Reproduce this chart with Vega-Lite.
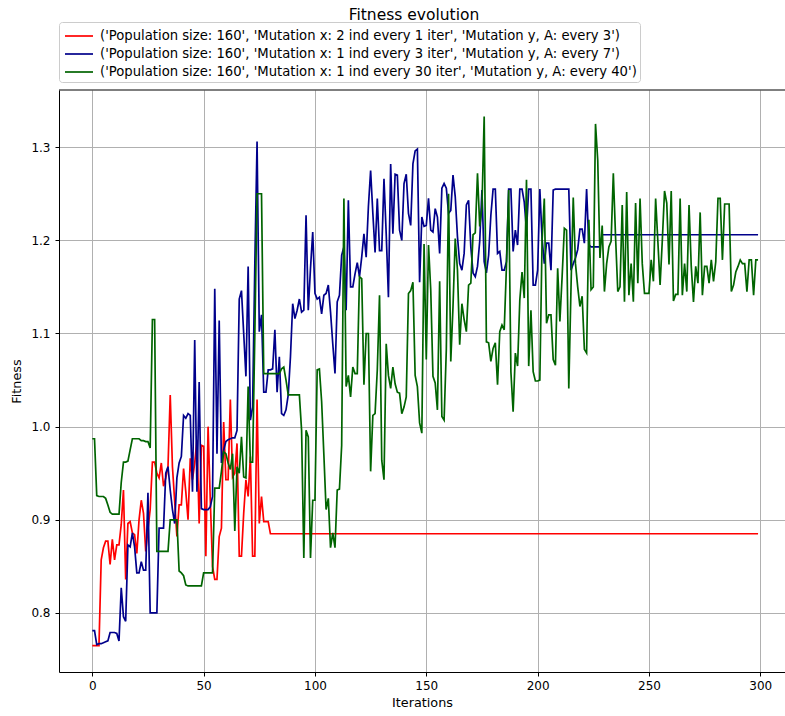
{
"$schema": "https://vega.github.io/schema/vega-lite/v6.json",
"width": 726,
"height": 582,
"autosize": {"type": "none"},
"padding": {"left": 59, "top": 90, "right": 0, "bottom": 44},
"background": "white",
"title": {"text": "Fitness evolution", "font": "DejaVu Sans", "fontSize": 15.5, "fontWeight": "normal", "color": "black", "offset": -2, "dx": -8, "anchor": "middle"},
"data": {"values": [
{"i":0,"r":0.765,"b":0.781,"g":0.987},
{"i":1,"r":0.765,"b":0.781,"g":0.987},
{"i":2,"r":0.765,"b":0.766,"g":0.926},
{"i":3,"r":0.765,"b":0.767,"g":0.925},
{"i":4,"r":0.857,"b":0.767,"g":0.925},
{"i":5,"r":0.870,"b":0.768,"g":0.925},
{"i":6,"r":0.877,"b":0.769,"g":0.923},
{"i":7,"r":0.877,"b":0.770,"g":0.916},
{"i":8,"r":0.852,"b":0.779,"g":0.908},
{"i":9,"r":0.879,"b":0.779,"g":0.906},
{"i":10,"r":0.857,"b":0.779,"g":0.906},
{"i":11,"r":0.873,"b":0.778,"g":0.906},
{"i":12,"r":0.873,"b":0.770,"g":0.906},
{"i":13,"r":0.895,"b":0.827,"g":0.940},
{"i":14,"r":0.932,"b":0.796,"g":0.962},
{"i":15,"r":0.836,"b":0.791,"g":0.962},
{"i":16,"r":0.896,"b":0.873,"g":0.963},
{"i":17,"r":0.898,"b":0.871,"g":0.975},
{"i":18,"r":0.886,"b":0.886,"g":0.987},
{"i":19,"r":0.884,"b":0.871,"g":0.987},
{"i":20,"r":0.864,"b":0.843,"g":0.987},
{"i":21,"r":0.900,"b":0.843,"g":0.987},
{"i":22,"r":0.921,"b":0.855,"g":0.985},
{"i":23,"r":0.907,"b":0.846,"g":0.985},
{"i":24,"r":0.866,"b":0.846,"g":0.984},
{"i":25,"r":0.890,"b":0.929,"g":0.984},
{"i":26,"r":0.911,"b":0.800,"g":0.977},
{"i":27,"r":0.962,"b":0.800,"g":1.115},
{"i":28,"r":0.962,"b":0.800,"g":1.115},
{"i":29,"r":0.950,"b":0.800,"g":0.866},
{"i":30,"r":0.945,"b":0.891,"g":0.866},
{"i":31,"r":0.961,"b":0.891,"g":0.866},
{"i":32,"r":0.936,"b":0.891,"g":0.866},
{"i":33,"r":0.945,"b":0.950,"g":0.866},
{"i":34,"r":0.957,"b":0.957,"g":0.866},
{"i":35,"r":1.034,"b":0.932,"g":0.900},
{"i":36,"r":0.957,"b":0.911,"g":0.900},
{"i":37,"r":0.920,"b":0.896,"g":0.900},
{"i":38,"r":0.882,"b":0.945,"g":0.900},
{"i":39,"r":0.916,"b":0.961,"g":0.845},
{"i":40,"r":0.916,"b":0.968,"g":0.843},
{"i":41,"r":0.955,"b":1.012,"g":0.840},
{"i":42,"r":0.930,"b":1.009,"g":0.830},
{"i":43,"r":0.900,"b":1.014,"g":0.829},
{"i":44,"r":0.966,"b":1.012,"g":0.829},
{"i":45,"r":0.943,"b":0.930,"g":0.829},
{"i":46,"r":0.961,"b":1.093,"g":0.829},
{"i":47,"r":0.986,"b":0.930,"g":0.829},
{"i":48,"r":0.896,"b":1.048,"g":0.829},
{"i":49,"r":0.980,"b":0.912,"g":0.829},
{"i":50,"r":0.979,"b":0.911,"g":0.843},
{"i":51,"r":0.861,"b":0.911,"g":0.843},
{"i":52,"r":1.000,"b":0.911,"g":0.843},
{"i":53,"r":0.921,"b":0.914,"g":0.843},
{"i":54,"r":0.850,"b":0.925,"g":0.843},
{"i":55,"r":0.836,"b":1.148,"g":0.934},
{"i":56,"r":0.836,"b":0.971,"g":0.934},
{"i":57,"r":0.882,"b":1.114,"g":0.934},
{"i":58,"r":0.891,"b":0.961,"g":0.952},
{"i":59,"r":1.005,"b":0.975,"g":0.973},
{"i":60,"r":0.943,"b":0.984,"g":0.971},
{"i":61,"r":0.943,"b":0.986,"g":0.961},
{"i":62,"r":1.029,"b":0.987,"g":0.954},
{"i":63,"r":0.946,"b":0.988,"g":0.971},
{"i":64,"r":0.950,"b":0.988,"g":0.888},
{"i":65,"r":0.982,"b":0.996,"g":0.957},
{"i":66,"r":0.861,"b":1.137,"g":0.950},
{"i":67,"r":0.861,"b":1.146,"g":0.989},
{"i":68,"r":0.907,"b":1.100,"g":0.946},
{"i":69,"r":0.943,"b":1.054,"g":0.945},
{"i":70,"r":0.925,"b":1.172,"g":1.043},
{"i":71,"r":0.968,"b":1.007,"g":0.962},
{"i":72,"r":0.861,"b":1.021,"g":0.962},
{"i":73,"r":0.861,"b":1.175,"g":1.100},
{"i":74,"r":1.029,"b":1.306,"g":1.250},
{"i":75,"r":0.896,"b":1.102,"g":1.250},
{"i":76,"r":0.925,"b":1.120,"g":1.250},
{"i":77,"r":0.898,"b":1.037,"g":1.057},
{"i":78,"r":0.898,"b":1.037,"g":1.057},
{"i":79,"r":0.898,"b":1.061,"g":1.057},
{"i":80,"r":0.885,"b":1.061,"g":1.057},
{"i":81,"r":0.885,"b":1.062,"g":1.057},
{"i":82,"r":0.885,"b":1.104,"g":1.057},
{"i":83,"r":0.885,"b":1.037,"g":1.057},
{"i":84,"r":0.885,"b":1.075,"g":1.057},
{"i":85,"r":0.885,"b":1.014,"g":1.062},
{"i":86,"r":0.885,"b":1.012,"g":1.064},
{"i":87,"r":0.885,"b":1.018,"g":1.050},
{"i":88,"r":0.885,"b":1.034,"g":1.034},
{"i":89,"r":0.885,"b":1.075,"g":1.034},
{"i":90,"r":0.885,"b":1.132,"g":1.034},
{"i":91,"r":0.885,"b":1.116,"g":1.034},
{"i":92,"r":0.885,"b":1.125,"g":1.034},
{"i":93,"r":0.885,"b":1.137,"g":1.034},
{"i":94,"r":0.885,"b":1.123,"g":0.996},
{"i":95,"r":0.885,"b":1.125,"g":0.859},
{"i":96,"r":0.885,"b":1.227,"g":0.996},
{"i":97,"r":0.885,"b":1.125,"g":0.989},
{"i":98,"r":0.885,"b":1.170,"g":0.859},
{"i":99,"r":0.885,"b":1.209,"g":0.921},
{"i":100,"r":0.885,"b":1.143,"g":0.921},
{"i":101,"r":0.885,"b":1.137,"g":1.061},
{"i":102,"r":0.885,"b":1.139,"g":1.062},
{"i":103,"r":0.885,"b":1.121,"g":1.027},
{"i":104,"r":0.885,"b":1.141,"g":0.970},
{"i":105,"r":0.885,"b":1.143,"g":0.911},
{"i":106,"r":0.885,"b":1.152,"g":0.923},
{"i":107,"r":0.885,"b":1.123,"g":0.870},
{"i":108,"r":0.885,"b":1.089,"g":0.886},
{"i":109,"r":0.885,"b":1.057,"g":0.870},
{"i":110,"r":0.885,"b":1.134,"g":0.932},
{"i":111,"r":0.885,"b":1.141,"g":0.933},
{"i":112,"r":0.885,"b":1.184,"g":0.980},
{"i":113,"r":0.885,"b":1.193,"g":1.245},
{"i":114,"r":0.885,"b":1.125,"g":1.043},
{"i":115,"r":0.885,"b":1.243,"g":1.055},
{"i":116,"r":0.885,"b":1.150,"g":1.032},
{"i":117,"r":0.885,"b":1.150,"g":1.064},
{"i":118,"r":0.885,"b":1.164,"g":1.057},
{"i":119,"r":0.885,"b":1.176,"g":1.057},
{"i":120,"r":0.885,"b":1.161,"g":1.161},
{"i":121,"r":0.885,"b":1.182,"g":1.159},
{"i":122,"r":0.885,"b":1.207,"g":1.045},
{"i":123,"r":0.885,"b":1.182,"g":1.100},
{"i":124,"r":0.885,"b":1.236,"g":1.100},
{"i":125,"r":0.885,"b":1.275,"g":0.952},
{"i":126,"r":0.885,"b":1.229,"g":1.012},
{"i":127,"r":0.885,"b":1.187,"g":1.014},
{"i":128,"r":0.885,"b":1.245,"g":1.061},
{"i":129,"r":0.885,"b":1.189,"g":1.141},
{"i":130,"r":0.885,"b":1.189,"g":0.964},
{"i":131,"r":0.885,"b":1.266,"g":0.943},
{"i":132,"r":0.885,"b":1.207,"g":1.089},
{"i":133,"r":0.885,"b":1.139,"g":1.055},
{"i":134,"r":0.885,"b":1.282,"g":1.041},
{"i":135,"r":0.885,"b":1.207,"g":1.064},
{"i":136,"r":0.885,"b":1.271,"g":1.046},
{"i":137,"r":0.885,"b":1.270,"g":1.037},
{"i":138,"r":0.885,"b":1.211,"g":1.036},
{"i":139,"r":0.885,"b":1.200,"g":1.014},
{"i":140,"r":0.885,"b":1.261,"g":1.021},
{"i":141,"r":0.885,"b":1.271,"g":1.032},
{"i":142,"r":0.885,"b":1.229,"g":1.143},
{"i":143,"r":0.885,"b":1.216,"g":1.146},
{"i":144,"r":0.885,"b":1.282,"g":1.155},
{"i":145,"r":0.885,"b":1.296,"g":1.055},
{"i":146,"r":0.885,"b":1.298,"g":1.043},
{"i":147,"r":0.885,"b":1.155,"g":1.004},
{"i":148,"r":0.885,"b":1.225,"g":0.993},
{"i":149,"r":0.885,"b":1.215,"g":1.196},
{"i":150,"r":0.885,"b":1.216,"g":1.072},
{"i":151,"r":0.885,"b":1.245,"g":1.195},
{"i":152,"r":0.885,"b":1.211,"g":1.147},
{"i":153,"r":0.885,"b":1.209,"g":1.054},
{"i":154,"r":0.885,"b":1.234,"g":1.047},
{"i":155,"r":0.885,"b":1.225,"g":1.018},
{"i":156,"r":0.885,"b":1.186,"g":1.156},
{"i":157,"r":0.885,"b":1.256,"g":1.011},
{"i":158,"r":0.885,"b":1.261,"g":1.007},
{"i":159,"r":0.885,"b":1.256,"g":1.083},
{"i":160,"r":0.885,"b":1.229,"g":1.250},
{"i":161,"r":0.885,"b":1.232,"g":1.070},
{"i":162,"r":0.885,"b":1.270,"g":1.129},
{"i":163,"r":0.885,"b":1.247,"g":1.202},
{"i":164,"r":0.885,"b":1.204,"g":1.168},
{"i":165,"r":0.885,"b":1.175,"g":1.088},
{"i":166,"r":0.885,"b":1.168,"g":1.132},
{"i":167,"r":0.885,"b":1.186,"g":1.115},
{"i":168,"r":0.885,"b":1.238,"g":1.102},
{"i":169,"r":0.885,"b":1.243,"g":1.152},
{"i":170,"r":0.885,"b":1.193,"g":1.154},
{"i":171,"r":0.885,"b":1.165,"g":1.206},
{"i":172,"r":0.885,"b":1.161,"g":1.208},
{"i":173,"r":0.885,"b":1.172,"g":1.272},
{"i":174,"r":0.885,"b":1.199,"g":1.215},
{"i":175,"r":0.885,"b":1.254,"g":1.236},
{"i":176,"r":0.885,"b":1.177,"g":1.333},
{"i":177,"r":0.885,"b":1.165,"g":1.091},
{"i":178,"r":0.885,"b":1.184,"g":1.090},
{"i":179,"r":0.885,"b":1.227,"g":1.070},
{"i":180,"r":0.885,"b":1.255,"g":1.084},
{"i":181,"r":0.885,"b":1.255,"g":1.090},
{"i":182,"r":0.885,"b":1.186,"g":1.045},
{"i":183,"r":0.885,"b":1.188,"g":1.102},
{"i":184,"r":0.885,"b":1.168,"g":1.109},
{"i":185,"r":0.885,"b":1.168,"g":1.104},
{"i":186,"r":0.885,"b":1.177,"g":1.172},
{"i":187,"r":0.885,"b":1.255,"g":1.254},
{"i":188,"r":0.885,"b":1.255,"g":1.059},
{"i":189,"r":0.885,"b":1.188,"g":1.016},
{"i":190,"r":0.885,"b":1.211,"g":1.079},
{"i":191,"r":0.885,"b":1.195,"g":1.065},
{"i":192,"r":0.885,"b":1.255,"g":1.136},
{"i":193,"r":0.885,"b":1.255,"g":1.166},
{"i":194,"r":0.885,"b":1.241,"g":1.138},
{"i":195,"r":0.885,"b":1.211,"g":1.265},
{"i":196,"r":0.885,"b":1.255,"g":1.065},
{"i":197,"r":0.885,"b":1.255,"g":1.125},
{"i":198,"r":0.885,"b":1.152,"g":1.059},
{"i":199,"r":0.885,"b":1.152,"g":1.049},
{"i":200,"r":0.885,"b":1.168,"g":1.049},
{"i":201,"r":0.885,"b":1.255,"g":1.050},
{"i":202,"r":0.885,"b":1.202,"g":1.200},
{"i":203,"r":0.885,"b":1.175,"g":1.245},
{"i":204,"r":0.885,"b":1.197,"g":1.111},
{"i":205,"r":0.885,"b":1.197,"g":1.120},
{"i":206,"r":0.885,"b":1.168,"g":1.120},
{"i":207,"r":0.885,"b":1.254,"g":1.072},
{"i":208,"r":0.885,"b":1.255,"g":1.066},
{"i":209,"r":0.885,"b":1.255,"g":1.170},
{"i":210,"r":0.885,"b":1.255,"g":1.113},
{"i":211,"r":0.885,"b":1.255,"g":1.161},
{"i":212,"r":0.885,"b":1.255,"g":1.213},
{"i":213,"r":0.885,"b":1.255,"g":1.211},
{"i":214,"r":0.885,"b":1.255,"g":1.041},
{"i":215,"r":0.885,"b":1.168,"g":1.150},
{"i":216,"r":0.885,"b":1.175,"g":1.246},
{"i":217,"r":0.885,"b":1.181,"g":1.175},
{"i":218,"r":0.885,"b":1.190,"g":1.150},
{"i":219,"r":0.885,"b":1.212,"g":1.129},
{"i":220,"r":0.885,"b":1.212,"g":1.140},
{"i":221,"r":0.885,"b":1.197,"g":1.083},
{"i":222,"r":0.885,"b":1.255,"g":1.079},
{"i":223,"r":0.885,"b":1.195,"g":1.222},
{"i":224,"r":0.885,"b":1.193,"g":1.147},
{"i":225,"r":0.885,"b":1.193,"g":1.150},
{"i":226,"r":0.885,"b":1.193,"g":1.325},
{"i":227,"r":0.885,"b":1.193,"g":1.286},
{"i":228,"r":0.885,"b":1.193,"g":1.181},
{"i":229,"r":0.885,"b":1.206,"g":1.216},
{"i":230,"r":0.885,"b":1.206,"g":1.145},
{"i":231,"r":0.885,"b":1.206,"g":1.175},
{"i":232,"r":0.885,"b":1.206,"g":1.193},
{"i":233,"r":0.885,"b":1.206,"g":1.199},
{"i":234,"r":0.885,"b":1.206,"g":1.272},
{"i":235,"r":0.885,"b":1.206,"g":1.204},
{"i":236,"r":0.885,"b":1.206,"g":1.145},
{"i":237,"r":0.885,"b":1.206,"g":1.150},
{"i":238,"r":0.885,"b":1.206,"g":1.238},
{"i":239,"r":0.885,"b":1.206,"g":1.134},
{"i":240,"r":0.885,"b":1.206,"g":1.252},
{"i":241,"r":0.885,"b":1.206,"g":1.141},
{"i":242,"r":0.885,"b":1.206,"g":1.175},
{"i":243,"r":0.885,"b":1.206,"g":1.134},
{"i":244,"r":0.885,"b":1.206,"g":1.240},
{"i":245,"r":0.885,"b":1.206,"g":1.154},
{"i":246,"r":0.885,"b":1.206,"g":1.245},
{"i":247,"r":0.885,"b":1.206,"g":1.175},
{"i":248,"r":0.885,"b":1.206,"g":1.143},
{"i":249,"r":0.885,"b":1.206,"g":1.143},
{"i":250,"r":0.885,"b":1.206,"g":1.143},
{"i":251,"r":0.885,"b":1.206,"g":1.179},
{"i":252,"r":0.885,"b":1.206,"g":1.156},
{"i":253,"r":0.885,"b":1.206,"g":1.245},
{"i":254,"r":0.885,"b":1.206,"g":1.199},
{"i":255,"r":0.885,"b":1.206,"g":1.152},
{"i":256,"r":0.885,"b":1.206,"g":1.200},
{"i":257,"r":0.885,"b":1.206,"g":1.253},
{"i":258,"r":0.885,"b":1.206,"g":1.240},
{"i":259,"r":0.885,"b":1.206,"g":1.174},
{"i":260,"r":0.885,"b":1.206,"g":1.253},
{"i":261,"r":0.885,"b":1.206,"g":1.135},
{"i":262,"r":0.885,"b":1.206,"g":1.142},
{"i":263,"r":0.885,"b":1.206,"g":1.142},
{"i":264,"r":0.885,"b":1.206,"g":1.245},
{"i":265,"r":0.885,"b":1.206,"g":1.141},
{"i":266,"r":0.885,"b":1.206,"g":1.175},
{"i":267,"r":0.885,"b":1.206,"g":1.145},
{"i":268,"r":0.885,"b":1.206,"g":1.238},
{"i":269,"r":0.885,"b":1.206,"g":1.172},
{"i":270,"r":0.885,"b":1.206,"g":1.134},
{"i":271,"r":0.885,"b":1.206,"g":1.172},
{"i":272,"r":0.885,"b":1.206,"g":1.154},
{"i":273,"r":0.885,"b":1.206,"g":1.230},
{"i":274,"r":0.885,"b":1.206,"g":1.141},
{"i":275,"r":0.885,"b":1.206,"g":1.172},
{"i":276,"r":0.885,"b":1.206,"g":1.172},
{"i":277,"r":0.885,"b":1.206,"g":1.154},
{"i":278,"r":0.885,"b":1.206,"g":1.179},
{"i":279,"r":0.885,"b":1.206,"g":1.156},
{"i":280,"r":0.885,"b":1.206,"g":1.177},
{"i":281,"r":0.885,"b":1.206,"g":1.245},
{"i":282,"r":0.885,"b":1.206,"g":1.245},
{"i":283,"r":0.885,"b":1.206,"g":1.179},
{"i":284,"r":0.885,"b":1.206,"g":1.239},
{"i":285,"r":0.885,"b":1.206,"g":1.239},
{"i":286,"r":0.885,"b":1.206,"g":1.239},
{"i":287,"r":0.885,"b":1.206,"g":1.145},
{"i":288,"r":0.885,"b":1.206,"g":1.152},
{"i":289,"r":0.885,"b":1.206,"g":1.166},
{"i":290,"r":0.885,"b":1.206,"g":1.172},
{"i":291,"r":0.885,"b":1.206,"g":1.179},
{"i":292,"r":0.885,"b":1.206,"g":1.175},
{"i":293,"r":0.885,"b":1.206,"g":1.175},
{"i":294,"r":0.885,"b":1.206,"g":1.145},
{"i":295,"r":0.885,"b":1.206,"g":1.179},
{"i":296,"r":0.885,"b":1.206,"g":1.179},
{"i":297,"r":0.885,"b":1.206,"g":1.141},
{"i":298,"r":0.885,"b":1.206,"g":1.179},
{"i":299,"r":0.885,"b":1.206,"g":1.179}
]},
"layer": [
{
"transform": [{"fold": ["r", "b", "g"], "as": ["s", "v"]}],
"mark": {"type": "line", "strokeWidth": 1.7, "interpolate": "linear"},
"encoding": {
"x": {"field": "i", "type": "quantitative", "scale": {"domain": [-14.95, 311.1], "nice": false, "zero": false},
"axis": {"values": [0, 50, 100, 150, 200, 250, 300], "title": "Iterations", "labelPadding": 4, "titlePadding": 5}},
"y": {"field": "v", "type": "quantitative", "scale": {"domain": [0.7366, 1.3614], "nice": false, "zero": false},
"axis": {"values": [0.8, 0.9, 1.0, 1.1, 1.2, 1.3], "format": ".1f", "title": "Fitness", "labelPadding": 5, "titlePadding": 7}},
"color": {"field": "s", "type": "nominal", "sort": ["r", "b", "g"],
"scale": {"domain": ["r", "b", "g"], "range": ["#ff0000", "#00008b", "#006400"]},
"legend": {"title": null, "orient": "none", "legendX": 0, "legendY": -68, "direction": "vertical",
"symbolType": "M-1.4,0L1.4,0", "symbolSize": 400, "symbolStrokeWidth": 1.7, "symbolOffset": 6,
"labelFont": "DejaVu Sans", "labelFontSize": 13.2, "labelColor": "black", "labelOffset": 10, "labelLimit": 0,
"rowPadding": -1, "padding": 3, "strokeColor": "#cccccc", "fillColor": "white", "cornerRadius": 3,
"labelExpr": "datum.value == 'r' ? \"('Population size: 160', 'Mutation x: 2 ind every 1 iter', 'Mutation y, A: every 3')\" : datum.value == 'b' ? \"('Population size: 160', 'Mutation x: 1 ind every 3 iter', 'Mutation y, A: every 7')\" : \"('Population size: 160', 'Mutation x: 1 ind every 30 iter', 'Mutation y, A: every 40')\""}}
}
},
{
"data": {"values": [{}]},
"mark": {"type": "rule", "color": "black", "strokeWidth": 1},
"encoding": {"y": {"datum": 1.3614}}
}
],
"config": {
"view": {"stroke": null},
"font": "DejaVu Sans",
"axis": {"grid": true, "gridColor": "#b0b0b0", "gridWidth": 1, "domainColor": "black", "domainWidth": 1,
"tickColor": "black", "tickSize": 4, "tickWidth": 1,
"labelFont": "DejaVu Sans", "labelFontSize": 12, "labelColor": "black", "labelFlush": false,
"titleFont": "DejaVu Sans", "titleFontSize": 12.8, "titleFontWeight": "normal", "titleColor": "black"}
}
}
